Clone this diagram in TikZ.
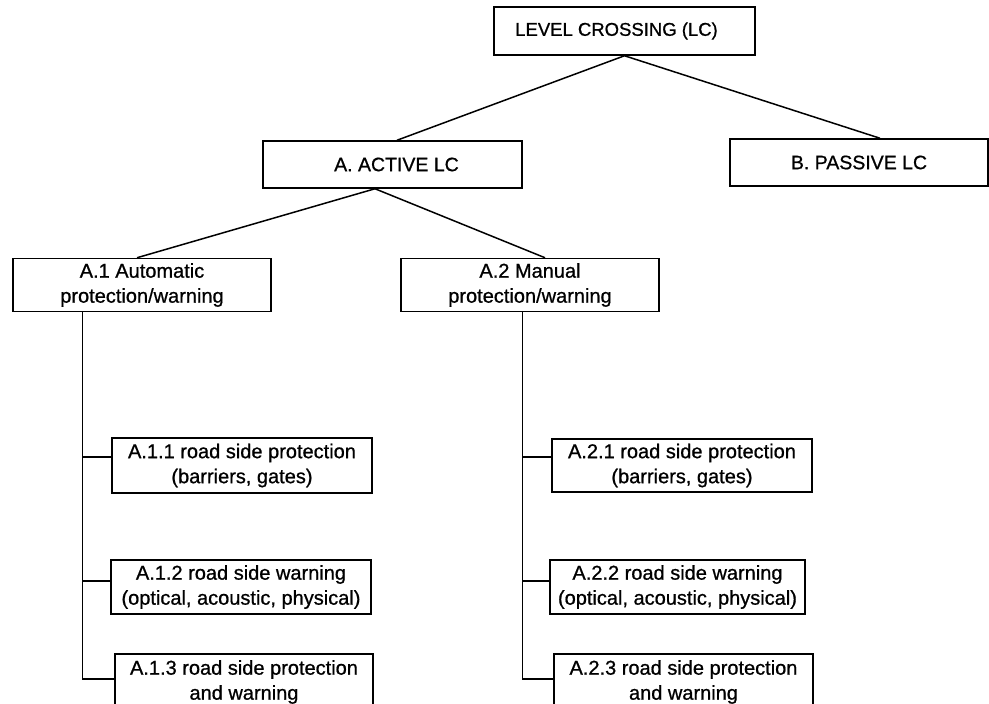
\documentclass[tikz,border=0pt]{standalone}
\usepackage{fontspec}
\setmainfont{Liberation Sans}[FakeBold=0.8]
\begin{document}
\begin{tikzpicture}[x=1pt,y=-1pt,
  box/.style={draw, line width=1.5pt, inner sep=0pt, align=center,
    font=\fontsize{20}{25}\selectfont},
  conn/.style={line width=1.5pt}]
\clip (0,0) rectangle (989,704);
\fill[white] (0,0) rectangle (989,704);
% top levels
\node[box, minimum width=261pt, minimum height=48pt, font=\fontsize{18.5}{24}\selectfont] (top) at (624.5,31) {\hspace*{-16pt}LEVEL CROSSING (LC)};
\node[box, minimum width=259pt, minimum height=47pt, font=\fontsize{19.5}{24}\selectfont] (act) at (392.5,164.5) {\hspace*{8pt}A. ACTIVE LC};
\node[box, minimum width=258pt, minimum height=47pt, font=\fontsize{19.5}{24}\selectfont] (pas) at (859,162.5) {B. PASSIVE LC};
% second level
\node[box, minimum width=258pt, minimum height=53pt] (a1) at (142,285) {A.1 Automatic\\protection/warning};
\node[box, minimum width=258pt, minimum height=53pt] (a2) at (530,285) {A.2 Manual\\protection/warning};
% third level, A.1
\node[box, minimum width=260pt, minimum height=55pt] (a11) at (242,465.5) {A.1.1 road side protection\\(barriers, gates)};
\node[box, minimum width=260pt, minimum height=54pt] (a12) at (241,587) {A.1.2 road side warning\\(optical, acoustic, physical)};
\node[box, minimum width=258pt, minimum height=56pt] (a13) at (244,682) {A.1.3 road side protection\\and warning};
% third level, A.2
\node[box, minimum width=260pt, minimum height=53pt] (a21) at (682,465.5) {A.2.1 road side protection\\(barriers, gates)};
\node[box, minimum width=255pt, minimum height=54pt] (a22) at (677.5,587) {A.2.2 road side warning\\(optical, acoustic, physical)};
\node[box, minimum width=259pt, minimum height=56pt] (a23) at (683.5,682) {A.2.3 road side protection\\and warning};
% connectors
\draw[conn] (top.south) -- ([xshift=4.5pt]act.north);
\draw[conn] (top.south) -- ([xshift=21pt]pas.north);
\draw[conn] ([xshift=-17.5pt]act.south) -- ([xshift=-5pt]a1.north);
\draw[conn] ([xshift=-17.5pt]act.south) -- ([xshift=15pt]a2.north);
\coordinate (t1) at ([xshift=70pt]a1.south west);
\coordinate (t2) at ([xshift=122pt]a2.south west);
\draw[conn] (t1) |- ([yshift=3pt]a13.west);
\draw[conn] (t1 |- a11.west) ++(0,-8.5) -- ([yshift=8.5pt]a11.west);
\draw[conn] (t1 |- a12.west) ++(0,-6) -- ([yshift=6pt]a12.west);
\draw[conn] (t2) |- ([yshift=3pt]a23.west);
\draw[conn] (t2 |- a21.west) ++(0,-8.5) -- ([yshift=8.5pt]a21.west);
\draw[conn] (t2 |- a22.west) ++(0,-6) -- ([yshift=6pt]a22.west);
\end{tikzpicture}
\end{document}
